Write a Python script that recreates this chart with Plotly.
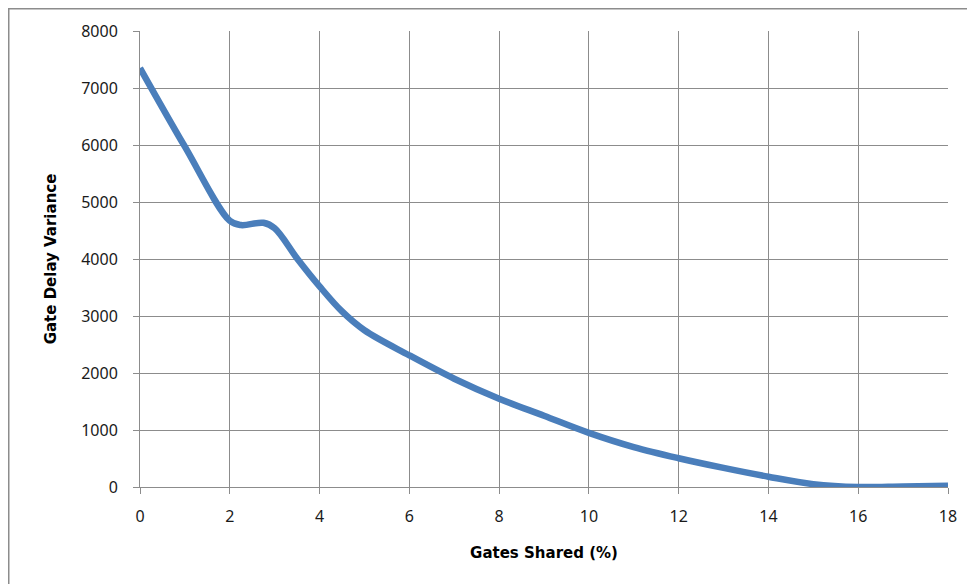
import plotly.graph_objects as go

gates_shared = [0, 1, 2, 2.25, 2.75, 3, 3.5, 4, 4.5, 5, 6, 7, 8, 9, 10, 11, 12, 13, 14, 15, 16, 17, 18]
delay_variance = [7350, 5970, 4670, 4595, 4635, 4540, 4010, 3520, 3080, 2750, 2310, 1900, 1550,
                  1250, 950, 700, 505, 335, 180, 50, 0, 10, 20]

x_ticks = [0, 2, 4, 6, 8, 10, 12, 14, 16, 18]
y_ticks = [0, 1000, 2000, 3000, 4000, 5000, 6000, 7000, 8000]

# the page body adds an 8px offset, margins compensate
W, H = 975, 584
L, R, T, B = 132, 35, 23, 105
pw, ph = W - L - R, H - T - B

fig = go.Figure()
fig.add_trace(go.Scatter(
    x=gates_shared, y=delay_variance, mode="lines",
    line=dict(color="#4A7EBB", width=6.5, shape="spline", smoothing=1.0),
    hoverinfo="skip", showlegend=False,
))

axis_common = dict(
    showgrid=True, gridcolor="#8C8C8C", gridwidth=1,
    zeroline=False, showline=True, linecolor="#8C8C8C", linewidth=1,
    ticks="outside", ticklen=6, tickcolor="#8C8C8C", tickwidth=1,
    tickfont=dict(family="Noto Sans", size=16, color="#1a1a1a"),
)
title_font = dict(family="DejaVu Sans", size=15, color="#000000", weight="bold")

fig.update_xaxes(range=[0, 18], tickvals=x_ticks, ticklabelstandoff=9,
                 title=dict(text="Gates Shared (%)", standoff=21, font=title_font),
                 **axis_common)
fig.update_yaxes(range=[0, 8000], tickvals=y_ticks, ticklabelstandoff=12,
                 title=dict(text="Gate Delay Variance", standoff=20, font=title_font),
                 **axis_common)

# outer chart-area border (only its top and left edges fall inside the window)
fig.add_shape(type="rect", xref="paper", yref="paper",
              x0=(0.75 - L) / pw, x1=1 + (W + 20 - (W - R)) / pw,
              y0=-(H + 20 - (H - B)) / ph, y1=1 + (T - 0.75) / ph,
              line=dict(color="#8C8C8C", width=1.5), fillcolor="rgba(0,0,0,0)", layer="below")

fig.update_layout(
    width=W, height=H,
    margin=dict(l=L, r=R, t=T, b=B),
    paper_bgcolor="white", plot_bgcolor="white",
    showlegend=False,
)

fig.write_html("out.html")
